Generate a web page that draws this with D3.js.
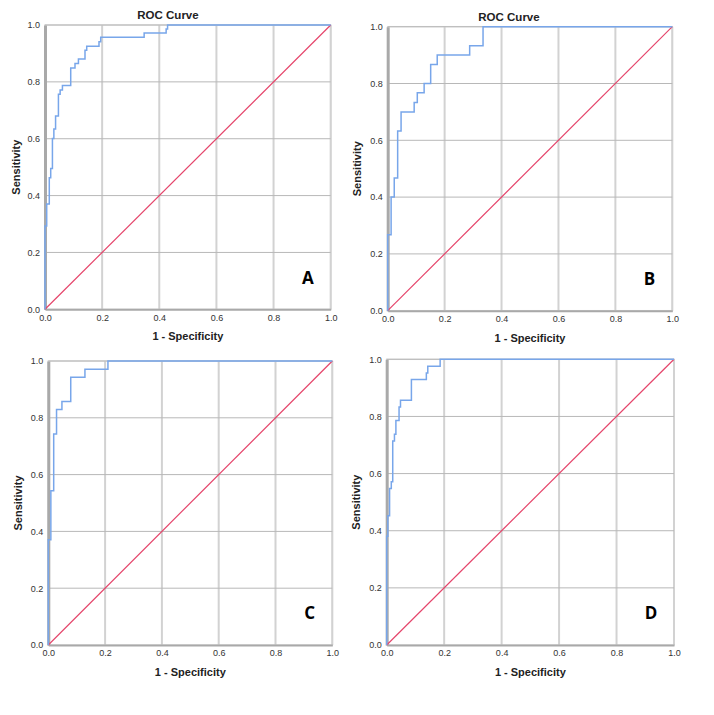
<!DOCTYPE html>
<html>
<head>
<meta charset="utf-8">
<script src="https://cdn.jsdelivr.net/npm/d3@7"></script>
<style>
  body { margin: 0; background: #fff; }
  svg { font-family: "Liberation Sans", Arial, sans-serif; }
</style>
</head>
<body>
<div id="chart"></div>
<script>
// ROC coordinates (1 - specificity, sensitivity)
const fprA = [0, 0, 0.006, 0.015, 0.020, 0.026, 0.031, 0.037, 0.047, 0.053, 0.061, 0.090, 0.105, 0.117, 0.140, 0.146, 0.189, 0.195, 0.347, 0.424, 0.429, 1.0];
const tprA = [0, 0.293, 0.370, 0.463, 0.495, 0.601, 0.634, 0.680, 0.756, 0.771, 0.787, 0.849, 0.865, 0.880, 0.911, 0.925, 0.941, 0.957, 0.972, 0.986, 1.0, 1.0];

const fprB = [0, 0, 0.012, 0.023, 0.035, 0.047, 0.093, 0.104, 0.128, 0.151, 0.174, 0.288, 0.335, 1.0];
const tprB = [0, 0.267, 0.400, 0.467, 0.633, 0.700, 0.733, 0.767, 0.800, 0.867, 0.900, 0.933, 1.0, 1.0];

const fprC = [0, 0, 0.009, 0.019, 0.029, 0.048, 0.079, 0.129, 0.210, 1.0];
const tprC = [0, 0.371, 0.543, 0.743, 0.829, 0.857, 0.943, 0.971, 1.0, 1.0];

const fprD = [0, 0, 0.004, 0.010, 0.016, 0.021, 0.027, 0.032, 0.043, 0.048, 0.086, 0.138, 0.143, 0.186, 1.0];
const tprD = [0, 0.381, 0.452, 0.548, 0.571, 0.714, 0.738, 0.786, 0.833, 0.857, 0.929, 0.952, 0.976, 1.0, 1.0];

const ticks = [0, 0.2, 0.4, 0.6, 0.8, 1.0];
const diagonal = [0, 1];

const panels = [
  { label: "A", title: "ROC Curve", fpr: fprA, tpr: tprA, x0: 45, x1: 330.7, y0: 309.3, y1: 25, titleX: 168, yTitleX: 20 },
  { label: "B", title: "ROC Curve", fpr: fprB, tpr: tprB, x0: 387.7, x1: 672.3, y0: 310.7, y1: 26.7, titleX: 509, yTitleX: 361 },
  { label: "C", title: "", fpr: fprC, tpr: tprC, x0: 48.3, x1: 332.3, y0: 645, y1: 361, titleX: 0, yTitleX: 22 },
  { label: "D", title: "", fpr: fprD, tpr: tprD, x0: 386.7, x1: 674, y0: 645, y1: 359.3, titleX: 0, yTitleX: 360 }
];

const svg = d3.select("#chart")
  .append("svg")
  .attr("width", 714)
  .attr("height", 715);

panels.forEach(p => {
  const x = d3.scaleLinear().domain([0, 1]).range([p.x0, p.x1]);
  const y = d3.scaleLinear().domain([0, 1]).range([p.y0, p.y1]);
  const g = svg.append("g");

  // frame (top and right)
  g.append("rect")
    .attr("x", x(0)).attr("y", y(1))
    .attr("width", x(1) - x(0)).attr("height", y(0) - y(1))
    .attr("fill", "none").attr("stroke", "#dcdcdc").attr("stroke-width", 1.5);

  // vertical grid
  g.selectAll(".vg")
    .data(ticks.slice(1))
    .enter().append("line")
    .attr("x1", d => x(d)).attr("x2", d => x(d))
    .attr("y1", y(0)).attr("y2", y(1))
    .attr("stroke", "#d2d2d2").attr("stroke-width", 2);

  // horizontal grid
  g.selectAll(".hg")
    .data(ticks.slice(1))
    .enter().append("line")
    .attr("x1", x(0)).attr("x2", x(1))
    .attr("y1", d => y(d)).attr("y2", d => y(d))
    .attr("stroke", "#b8b8b8").attr("stroke-width", 1);

  // axes
  const ax = g.append("g")
    .attr("transform", "translate(0," + y(0) + ")")
    .call(d3.axisBottom(x).tickValues(ticks).tickFormat(d3.format(".1f")).tickSize(0).tickPadding(5));
  const ay = g.append("g")
    .attr("transform", "translate(" + x(0) + ",0)")
    .call(d3.axisLeft(y).tickValues(ticks).tickFormat(d3.format(".1f")).tickSize(0).tickPadding(5));
  [ax, ay].forEach(a => {
    a.selectAll("text").attr("font-size", 9).attr("fill", "#333").attr("font-family", "Liberation Sans, Arial, sans-serif");
  });
  ax.select(".domain").attr("stroke", "#a9a9a9").attr("stroke-width", 2);
  ay.select(".domain").attr("stroke", "#a9a9a9").attr("stroke-width", 3);

  // reference diagonal
  g.append("path")
    .datum(diagonal)
    .attr("d", d3.line().x(d => x(d)).y(d => y(d)))
    .attr("fill", "none")
    .attr("stroke", "#e5456b")
    .attr("stroke-width", 1.2);

  // ROC curve
  const pts = p.fpr.map((v, i) => [v, p.tpr[i]]);
  g.append("path")
    .datum(pts)
    .attr("d", d3.line().x(d => x(d[0])).y(d => y(d[1])).curve(d3.curveStepAfter))
    .attr("fill", "none")
    .attr("stroke", "#78a6ea")
    .attr("stroke-width", 1.5);

  // titles
  if (p.title) {
    g.append("text")
      .attr("x", p.titleX).attr("y", y(1) - 6)
      .attr("text-anchor", "middle")
      .attr("font-size", 11.5).attr("font-weight", "bold").attr("fill", "#222")
      .text(p.title);
  }
  g.append("text")
    .attr("x", (p.x0 + p.x1) / 2).attr("y", y(0) + 31)
    .attr("text-anchor", "middle")
    .attr("font-size", 11).attr("font-weight", "bold").attr("fill", "#222")
    .text("1 - Specificity");
  g.append("text")
    .attr("transform", "translate(" + p.yTitleX + "," + (p.y0 + p.y1) / 2 + ") rotate(-90)")
    .attr("text-anchor", "middle")
    .attr("font-size", 11).attr("font-weight", "bold").attr("fill", "#222")
    .text("Sensitivity");

  // panel letter
  g.append("text")
    .attr("x", x(0.92)).attr("y", y(0.09))
    .attr("text-anchor", "middle")
    .attr("font-size", 17).attr("font-weight", "bold").attr("fill", "#000")
    .attr("font-family", "Open Sans, Liberation Sans, sans-serif")
    .text(p.label);
});
</script>
</body>
</html>
